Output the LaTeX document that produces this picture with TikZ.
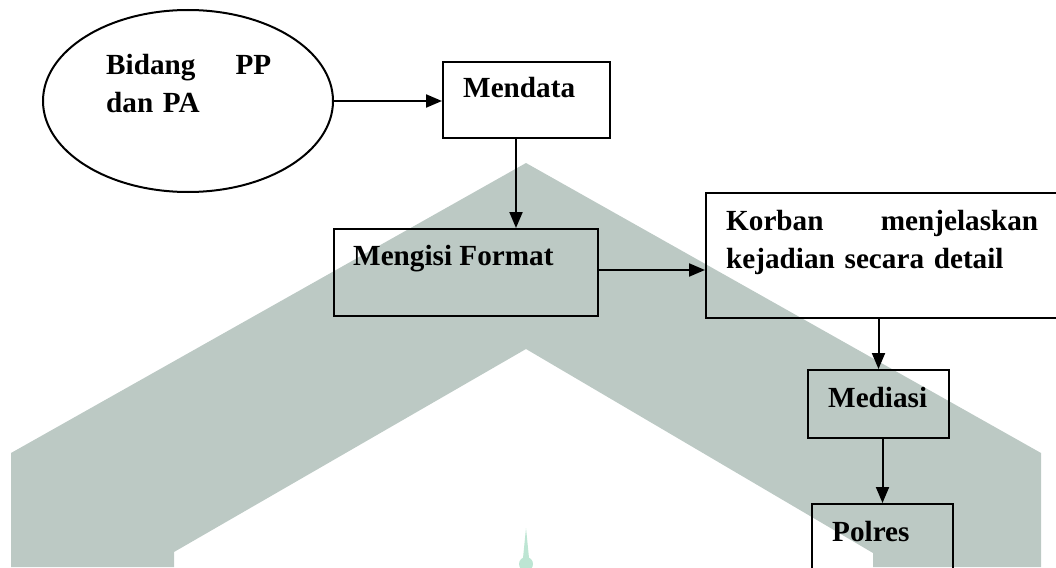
\documentclass[tikz,border=0pt]{standalone}
\usepackage{fontspec}
\setmainfont{Liberation Serif}
\usetikzlibrary{arrows.meta,shapes.geometric}
\definecolor{wmgrey}{HTML}{BCC9C4}
\definecolor{wmmint}{HTML}{BDE5D3}
\begin{document}
\begin{tikzpicture}[x=1pt, y=-1pt,
    box/.style={draw, line width=2pt, anchor=north west, inner sep=0pt},
    txt/.style={anchor=base west, inner sep=0pt, font=\fontsize{29.2}{38}\selectfont\bfseries},
    flow/.style={line width=2pt, -{Triangle[length=16pt,width=13pt]}}]
    \useasboundingbox (0,0) rectangle (1056,567);
    \clip (0,0) rectangle (1056,567);
    % Watermark
    \fill[wmgrey] (11,567) -- (11,453) -- (526,163) -- (1041,453) -- (1041,567)
        -- (873,567) -- (873,553) -- (526,349) -- (174,552) -- (174,567) -- cycle;
    \fill[wmmint] (526,528) -- (529,558) -- (523,558) -- cycle;
    \fill[wmmint] (526,564) circle (7);
    % Boxes
    \node[draw, ellipse, line width=2pt, minimum width=290pt, minimum height=182pt] (bidang) at (188,101) {};
    \node[box, minimum width=167pt, minimum height=76pt] (mendata) at (442,61) {};
    \node[box, minimum width=264pt, minimum height=87pt] (mengisi) at (333,228) {};
    \node[box, minimum width=400pt, minimum height=125pt] (korban) at (705,192) {};
    \node[box, minimum width=141pt, minimum height=68pt] (mediasi) at (807,369) {};
    \node[box, minimum width=141pt, minimum height=100pt] (polres) at (811,503) {};
    % Texts
    \node[txt, text width=165pt] (tbidang) at (106,75) {Bidang \hfill PP\\dan PA};
    \node[txt] (tmendata) at (463,98) {Mendata};
    \node[txt] (tmengisi) at (353,265) {Mengisi Format};
    \node[txt, text width=312pt] (tkorban) at (726,230) {Korban \hfill menjelaskan\\kejadian secara detail};
    \node[txt] (tmediasi) at (828,407) {Mediasi};
    \node[txt] (tpolres) at (832,541) {Polres};
    % Arrows
    \draw[flow] (bidang.east) -- (bidang.east -| mendata.west);
    \draw[flow] ([xshift=-10.5pt]mendata.south) -- ([xshift=-10.5pt]mendata.south |- mengisi.north);
    \draw[flow] ([yshift=2.5pt]mengisi.east) -- ([yshift=2.5pt]mengisi.east -| korban.west);
    \draw[flow] (mediasi.north |- korban.south) -- (mediasi.north);
    \draw[flow] (polres.north |- mediasi.south) -- (polres.north);
\end{tikzpicture}
\end{document}
